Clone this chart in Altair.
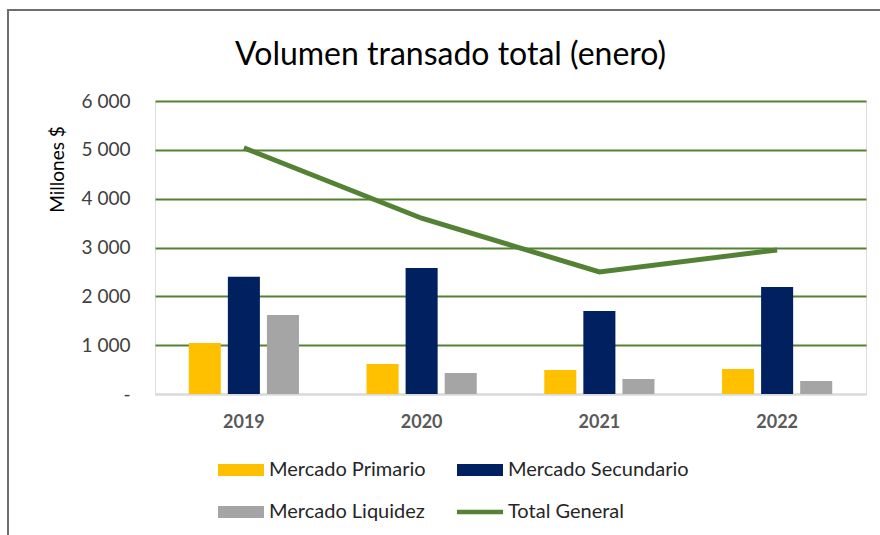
import altair as alt
import pandas as pd

years = ["2019", "2020", "2021", "2022"]
primario = [1045, 615, 490, 512]
secundario = [2400, 2580, 1700, 2190]
liquidez = [1620, 430, 307, 266]
total = [5040, 3600, 2500, 2950]
series = ["Mercado Primario", "Mercado Secundario", "Mercado Liquidez", "Total General"]
colors = ["#FFC000", "#002060", "#A5A5A5", "#548235"]
y_ticks = [0, 1000, 2000, 3000, 4000, 5000, 6000]

rows = []
for i, yr in enumerate(years):
    rows.append({"anio": yr, "serie": series[0], "valor": primario[i]})
    rows.append({"anio": yr, "serie": series[1], "valor": secundario[i]})
    rows.append({"anio": yr, "serie": series[2], "valor": liquidez[i]})
bars_df = pd.DataFrame(rows)
total_df = pd.DataFrame({"anio": years, "serie": [series[3]] * len(years), "valor": total})
all_df = pd.concat([bars_df, total_df], ignore_index=True)
frame_df = pd.DataFrame({"k": [0]})

FONT = "Lato"
BAR_SYM = "M-1,-0.26H1V0.26H-1Z"
LINE_SYM = "M-1,-0.1H1V0.1H-1Z"

color_scale = alt.Scale(domain=series, range=colors)
legend = alt.Legend(
    title=None,
    orient="none",
    legendX=63,
    legendY=346,
    direction="horizontal",
    columns=2,
    columnPadding=31,
    rowPadding=9,
    symbolType=BAR_SYM,
    symbolSize=2116,
    symbolStrokeWidth=0,
    symbolOpacity=1,
    labelFont=FONT,
    labelFontSize=20,
    labelColor="#262626",
    labelOffset=5,
    labelLimit=400,
)
color = alt.Color("serie:N", scale=color_scale, legend=legend)

x = alt.X(
    "anio:N",
    title=None,
    scale=alt.Scale(paddingInner=0.38, paddingOuter=0.19),
    axis=alt.Axis(
        labelAngle=0,
        labelFont=FONT,
        labelFontSize=18,
        labelFontWeight="bold",
        labelColor="#595959",
        labelPadding=19,
        ticks=False,
        domainColor="#D9D9D9",
        domainWidth=2,
        grid=False,
    ),
)

y = alt.Y(
    "valor:Q",
    title="Millones $",
    scale=alt.Scale(domain=[0, 6000], nice=False),
    axis=alt.Axis(
        values=y_ticks,
        labelExpr="datum.value === 0 ? '-' : replace(format(datum.value, ','), ',', ' ')",
        labelFont=FONT,
        labelFontSize=19,
        labelColor="#404040",
        labelPadding=25,
        ticks=False,
        domain=False,
        gridColor={"condition": {"test": "datum.value === 0", "value": "#D9D9D9"}, "value": "#548235"},
        gridWidth=2,
        titleFont=FONT,
        titleFontSize=19,
        titleFontWeight="normal",
        titleColor="#000000",
        titleAngle=-90,
        titleX=-98,
        titleY=68,
        titleAlign="center",
        titleBaseline="middle",
    ),
)

frame = alt.Chart(frame_df).mark_rect(
    fillOpacity=0, stroke="#6E6E6E", strokeWidth=2
).encode(
    x=alt.value(-147), x2=alt.value(760), y=alt.value(-91), y2=alt.value(480)
)

bars = alt.Chart(bars_df).mark_bar().encode(
    x=x,
    xOffset=alt.XOffset("serie:N", sort=series[:3],
                        scale=alt.Scale(paddingInner=0.18, paddingOuter=0)),
    y=y,
    color=color,
)

line = alt.Chart(total_df).mark_line(strokeWidth=5).encode(
    x=x, y=y, color=color
)

legend_pts = alt.Chart(all_df).mark_point(filled=True, size=0).encode(
    x=x,
    y=y,
    color=color,
    shape=alt.Shape(
        "serie:N",
        scale=alt.Scale(domain=series, range=[BAR_SYM, BAR_SYM, BAR_SYM, LINE_SYM]),
        legend=legend,
    ),
)

chart = alt.layer(frame, bars, line, legend_pts).properties(
    width=711,
    height=293,
    title=alt.Title(
        "Volumen transado total (enero)",
        font=FONT,
        fontSize=32,
        fontWeight="normal",
        color="#000000",
        anchor="middle",
        dx=-60,
        offset=-63,
    ),
    autosize=alt.AutoSizeParams(type="none"),
    padding={"left": 155, "top": 101, "right": 14, "bottom": 141},
).configure_view(stroke=None).configure(background="white")

chart.save("out.html", embed_options={"renderer": "svg", "actions": False})
